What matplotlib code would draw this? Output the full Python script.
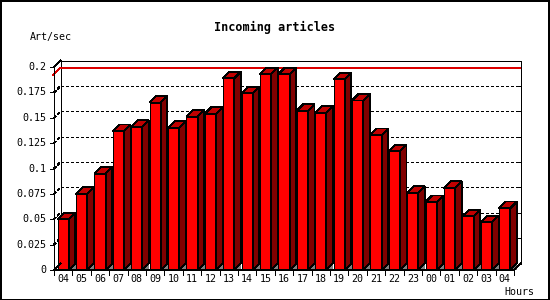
import numpy as np
import matplotlib
matplotlib.use('Agg')
import matplotlib.pyplot as plt
from matplotlib.patches import Polygon, Rectangle

# 시간대별 값 (Art/sec)
hours = ['04', '05', '06', '07', '08', '09', '10', '11', '12', '13', '14', '15', '16',
         '17', '18', '19', '20', '21', '22', '23', '00', '01', '02', '03', '04']
values = [0.050, 0.075, 0.095, 0.137, 0.141, 0.165, 0.140, 0.151, 0.154, 0.189, 0.174,
          0.193, 0.193, 0.157, 0.155, 0.188, 0.167, 0.133, 0.117, 0.076, 0.067, 0.081,
          0.053, 0.047, 0.061]
yticks = [0, 0.025, 0.05, 0.075, 0.1, 0.125, 0.15, 0.175, 0.2]
ytick_labels = ['0', '0.025', '0.05', '0.075', '0.1', '0.125', '0.15', '0.175', '0.2']

# GD 스타일처럼 선은 안티앨리어싱 없이
plt.rcParams['lines.antialiased'] = False
plt.rcParams['patch.antialiased'] = False

W, H = 550, 300
fig = plt.figure(figsize=(W / 100, H / 100), dpi=100)
fig.patch.set_facecolor('white')
ax = fig.add_axes([54 / W, 30 / H, 460 / W, 203 / H])
ax.set_xlim(0, len(values))
ax.set_ylim(0, 0.2)
ax.axis('off')

# 3D 깊이 (픽셀 -> 데이터 단위)
px_x = len(values) / 460
px_y = 0.2 / 203
DX = 6.5 * px_x
DY = 6.5 * px_y
lw = 0.6
mono = 'DejaVu Sans Mono'

# 뒤쪽 격자선 (점선)
for t in yticks[1:-1]:
    ax.plot([0 + DX, len(values) + DX], [t + DY, t + DY], color='black', lw=lw,
            ls=(0, (3.3, 3.3)), zorder=1, clip_on=False)
    ax.plot([0, DX], [t, t + DY], color='black', lw=lw, ls=(0, (3.3, 3.3)), zorder=1, clip_on=False)
    ax.plot([len(values) + DX - 3 * px_x, len(values) + DX], [t + DY, t + DY],
            color='black', lw=lw, zorder=1, clip_on=False)

# 최대값 빨간선
vmax = max(values)
ax.plot([-1 * px_x, DX, len(values) + DX], [vmax - 1 * px_y, vmax + DY, vmax + DY],
        color='#dd0000', lw=lw, zorder=1.5, clip_on=False)

# 뒷벽 테두리
ax.plot([DX, DX, len(values) + DX, len(values) + DX], [DY, 0.2 + DY, 0.2 + DY, DY],
        color='black', lw=lw, zorder=1, clip_on=False)
ax.plot([0, DX], [0.2, 0.2 + DY], color='black', lw=lw, zorder=1, clip_on=False)

# 막대 (앞면, 윗면, 옆면, 바닥 그림자)
bw = 0.61
x = np.arange(len(values)) + 0.5
ax.bar(x, values, width=bw, color='#ff0000', edgecolor='black', lw=lw, zorder=3, clip_on=False)
for xi, v in zip(x, values):
    xl, xr = xi - bw / 2, xi + bw / 2
    ax.add_patch(Polygon([(xr, 0), (xr + DX, DY), (xr + DX, 0)], closed=True,
                         facecolor='#808080', edgecolor='none', zorder=2.5, clip_on=False))
    ax.add_patch(Polygon([(xr, 0), (xr, v), (xr + DX, v + DY), (xr + DX, DY)], closed=True,
                         facecolor='#800000', edgecolor='black', lw=lw, zorder=3, clip_on=False))
    ax.add_patch(Polygon([(xl, v), (xr, v), (xr + DX, v + DY), (xl + DX, v + DY)], closed=True,
                         facecolor='#c00000', edgecolor='black', lw=lw, zorder=3, clip_on=False))

# 앞쪽 축
ax.plot([0, 0], [0, 0.2], color='black', lw=lw, zorder=4, clip_on=False)
ax.plot([0, len(values), len(values) + DX], [0, 0, DY], color='black', lw=lw, zorder=4, clip_on=False)
ax.plot([0, DX], [0, DY], color='black', lw=lw, zorder=4, clip_on=False)

# y 눈금
for t, lab in zip(yticks, ytick_labels):
    ax.plot([-4 * px_x, 0], [t, t], color='black', lw=lw, zorder=4, clip_on=False)
    ax.text(-8 * px_x, t, lab, ha='right', va='center', fontsize=7.2, family=mono)

# x 눈금
for i in range(len(values) + 1):
    ax.plot([i, i], [0, -5 * px_y], color='black', lw=lw, zorder=4, clip_on=False)
for xi, lab in zip(x, hours):
    ax.text(xi, -9.5 * px_y, lab, ha='center', va='center', fontsize=7.2, family=mono)

fig.text(275 / W, 1 - 27 / H, 'Incoming articles', ha='center', va='center',
         fontsize=8.5, family=mono, weight='bold')
fig.text(30 / W, 1 - 37 / H, 'Art/sec', ha='left', va='center', fontsize=7.2, family=mono)
fig.text(519 / W, 1 - 292 / H, 'Hours', ha='center', va='center', fontsize=7.2, family=mono)

# 바깥 테두리
fig.patches.append(Rectangle((0.5 / W, 0.5 / H), 1 - 1.5 / W, 1 - 1.5 / H, transform=fig.transFigure,
                             fill=False, edgecolor='black', lw=1.2))

fig.savefig('out.png', dpi=100)
